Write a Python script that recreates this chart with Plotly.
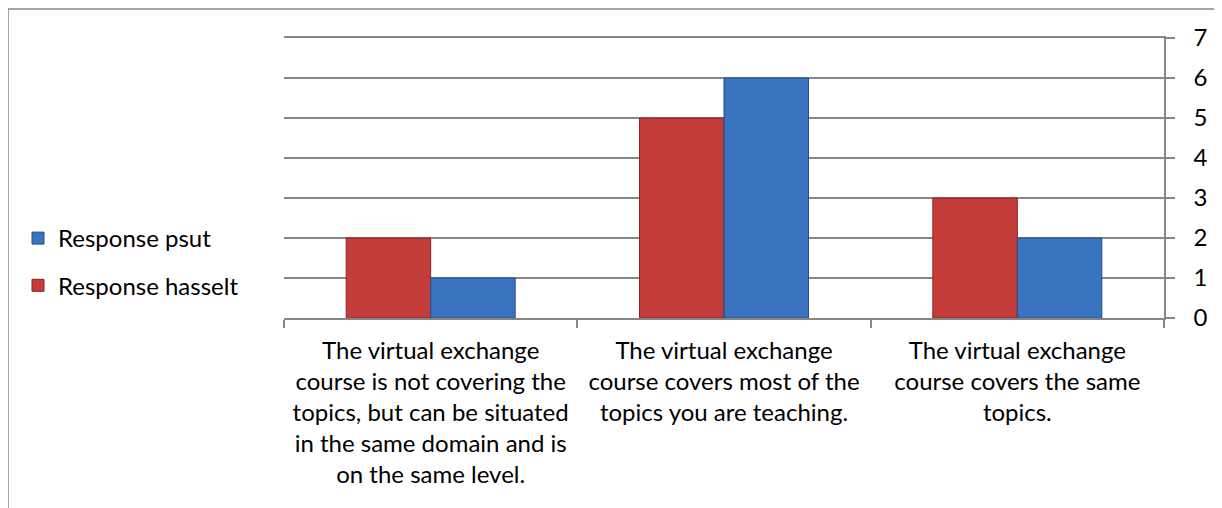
import plotly.graph_objects as go

categories = [
    "The virtual exchange<br>course is not covering the<br>topics, but can be situated<br>in the same domain and is<br>on the same level.",
    "The virtual exchange<br>course covers most of the<br>topics you are teaching.",
    "The virtual exchange<br>course covers the same<br>topics.",
]
hasselt = [2, 5, 3]
psut = [1, 6, 2]
y_ticks = [0, 1, 2, 3, 4, 5, 6, 7]

FONT = "Lato"
FS = 24
# the page body adds an 8px offset; compensate in figure size and margins
W, H = 1214, 500
L, R, T, B = 276, 58, 30, 190
pw, ph = W - L - R, H - T - B

fig = go.Figure()
fig.add_trace(go.Bar(
    name="Response hasselt", x=categories, y=hasselt,
    marker=dict(color="#C43D3A", line=dict(color="#8A2423", width=1)),
    legendgroup="h", legendrank=2,
))
fig.add_trace(go.Bar(
    name="Response psut", x=categories, y=psut,
    marker=dict(color="#3A73C0", line=dict(color="#234D85", width=1)),
    legendgroup="p", legendrank=1,
))

fig.update_layout(
    width=W, height=H,
    margin=dict(l=L, r=R, t=T, b=B, autoexpand=False),
    paper_bgcolor="white", plot_bgcolor="white",
    barmode="group", bargap=0.424, bargroupgap=0,
    font=dict(family=FONT, size=FS, color="black"),
    showlegend=True,
    legend=dict(
        x=(10 - L) / pw, xanchor="left",
        y=(H - B - 254) / ph, yanchor="middle",
        traceorder="grouped", tracegroupgap=13,
        font=dict(family=FONT, size=FS, color="black"),
        bgcolor="rgba(0,0,0,0)",
    ),
    xaxis=dict(
        type="category", tickson="boundaries", ticks="outside", ticklen=8,
        tickcolor="#868686", tickwidth=1.5,
        showline=True, mirror=True, linecolor="#868686", linewidth=1.5,
        showgrid=False, tickfont=dict(family=FONT, size=FS),
        ticklabelstandoff=10,
    ),
    yaxis=dict(
        side="right", range=[0, 7], tickvals=y_ticks, ticks="outside", ticklen=9,
        tickcolor="#868686", tickwidth=1.5,
        showline=True, linecolor="#868686", linewidth=1.5,
        showgrid=True, gridcolor="#868686", gridwidth=1.5,
        zeroline=False, tickfont=dict(family=FONT, size=FS),
        ticklabelstandoff=14,
    ),
    shapes=[dict(
        type="rect", xref="paper", yref="paper",
        x0=(0 - L) / pw, x1=(1213 - L) / pw,
        y0=(H - B - 530) / ph, y1=(H - B - 1) / ph,
        line=dict(color="#868686", width=1.5), fillcolor="rgba(0,0,0,0)", layer="below",
    )],
)

fig.write_html("out.html")
